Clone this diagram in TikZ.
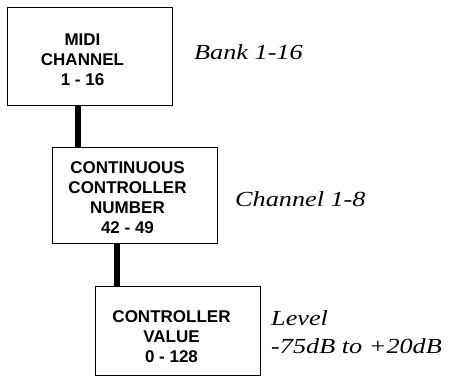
\documentclass[tikz,border=0pt]{standalone}
\usepackage{fontspec}
\newfontfamily\boxfont{Liberation Sans}[BoldFont={Liberation Sans Bold}]
\newfontfamily\notefont[FakeStretch=1.22]{Liberation Serif}
\tikzset{
  box/.style={draw=black, line width=1pt, fill=white, inner sep=0pt, minimum width=165pt},
  boxtext/.style={font=\boxfont\bfseries\fontsize{17}{20}\selectfont, align=center, inner sep=0pt},
  note/.style={font=\notefont\itshape\fontsize{21.5}{28}\selectfont, align=left, inner sep=0pt, anchor=base west},
  link/.style={line width=6pt}
}
\begin{document}
\begin{tikzpicture}[x=1pt,y=-1pt]
\useasboundingbox (0,0) rectangle (450,385);
% boxes
\node[box, minimum height=98pt] (midi) at (89.5,57) {};
\node[box, minimum height=95pt] (cc) at (134.5,195.5) {};
\node[box, minimum height=89pt] (val) at (177.5,330.5) {};
\node[boxtext] (midit) at ([shift={(-7pt,-3pt)}]midi.center) {MIDI\\CHANNEL\\1 - 16};
\node[boxtext] (cct) at ([shift={(-7pt,-2pt)}]cc.center) {CONTINUOUS\\CONTROLLER\\NUMBER\\42 - 49};
\node[boxtext] (valt) at ([shift={(-6pt,-6pt)}]val.center) {CONTROLLER\\VALUE\\0 - 128};
% links
\draw[link] ([xshift=-11.5pt]midi.south) -- ([xshift=-11.5pt]midi.south |- cc.north);
\draw[link] ([xshift=-17.5pt]cc.south) -- ([xshift=-17.5pt]cc.south |- val.north);
% notes
\node[note] (bank) at (194,60) {Bank 1-16};
\node[note] (chan) at (235,206) {Channel 1-8};
\node[note] (level) at (271,353) {Level\\-75dB to +20dB};
\end{tikzpicture}
\end{document}
